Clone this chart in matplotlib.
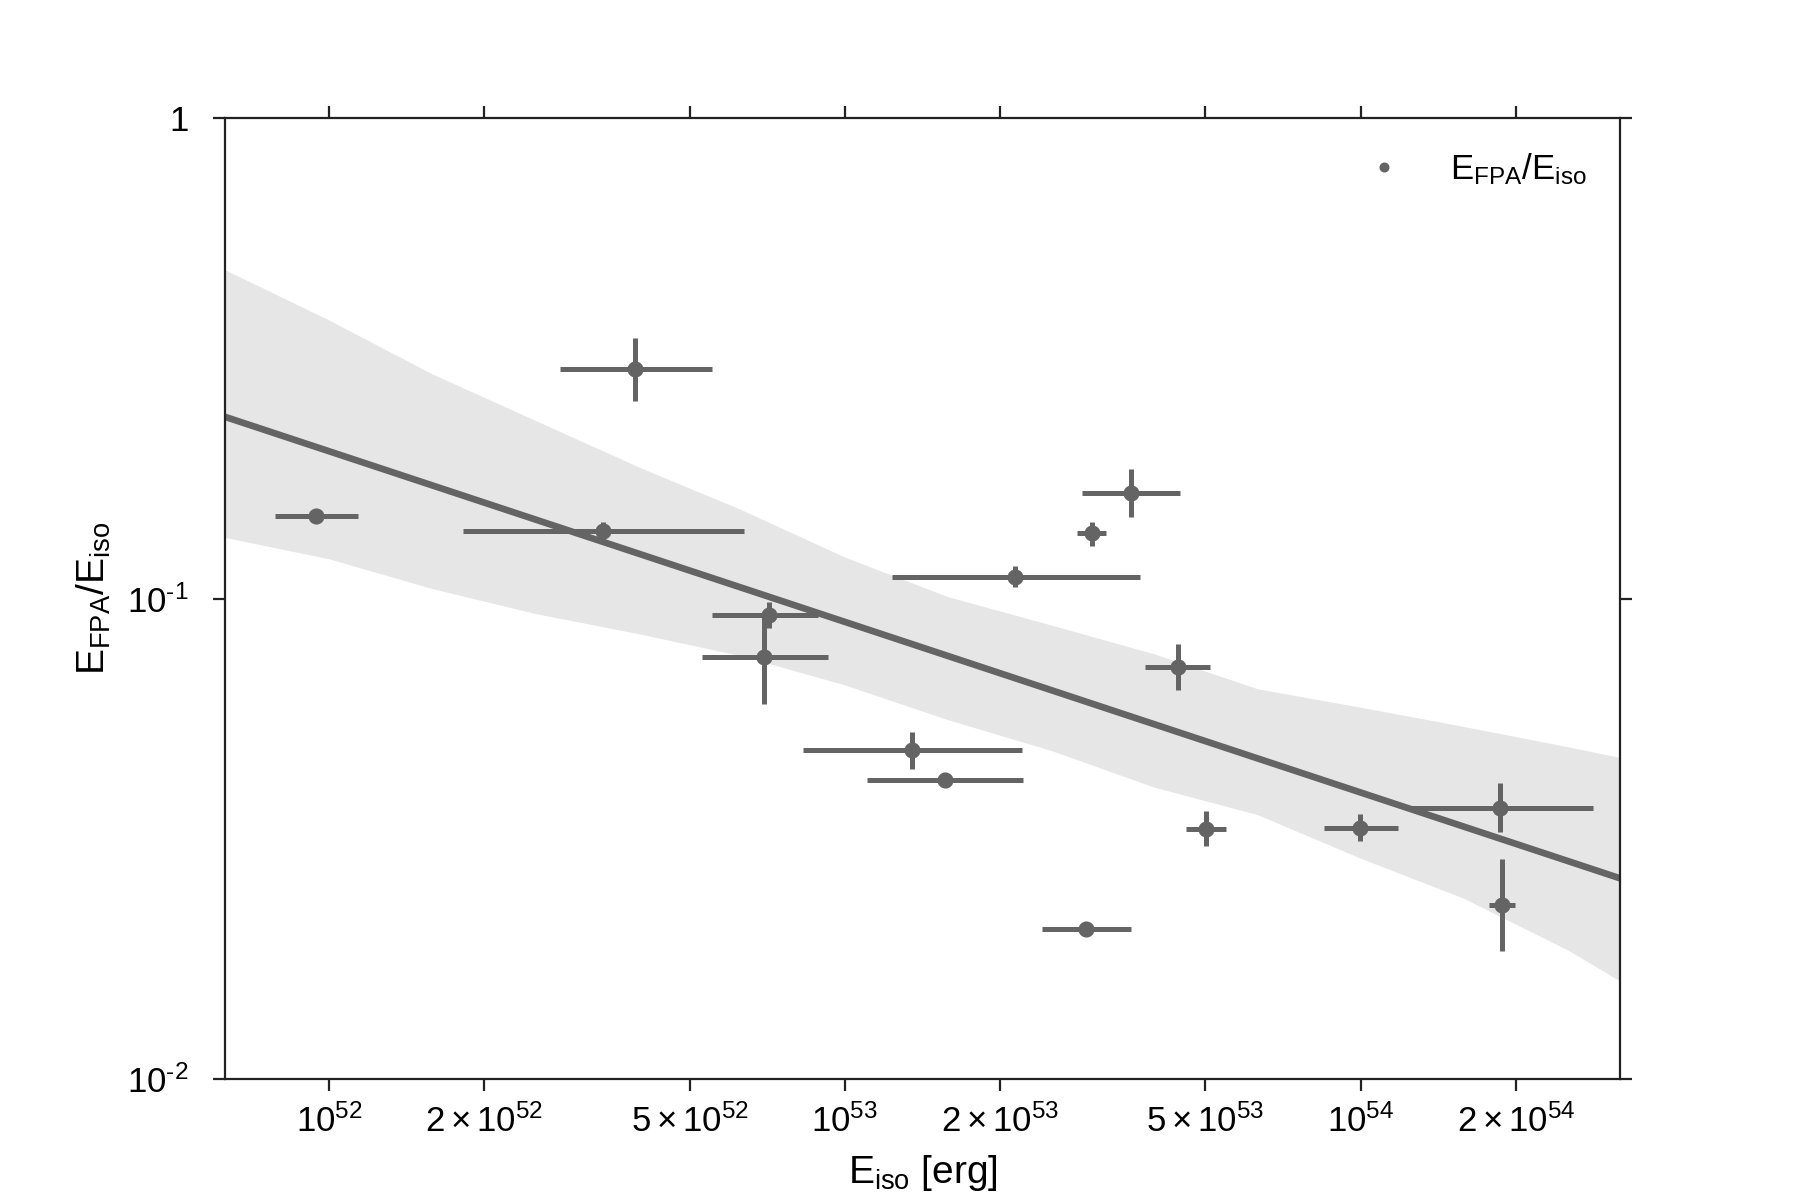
import matplotlib
matplotlib.use('Agg')
import matplotlib.pyplot as plt
from matplotlib.ticker import FixedLocator, FixedFormatter, NullLocator
import numpy as np

plt.rcParams['font.family'] = ['Liberation Sans', 'DejaVu Sans']
plt.rcParams['mathtext.fontset'] = 'custom'
plt.rcParams['mathtext.rm'] = 'Liberation Sans'
plt.rcParams['mathtext.it'] = 'Liberation Sans:italic'
plt.rcParams['mathtext.default'] = 'regular'

# data points: E_iso with lower/upper bounds, ratio with lower/upper bounds
e_iso    = [9.46e51, 3.92e52, 3.40e52, 7.14e52, 6.98e52, 2.14e53, 3.01e53, 3.59e53,
            4.42e53, 1.349e53, 1.563e53, 5.02e53, 9.97e53, 1.858e54, 1.877e54, 2.93e53]
e_iso_lo = [7.88e51, 2.81e52, 1.822e52, 5.52e52, 5.28e52, 1.233e53, 2.816e53, 2.878e53,
            3.81e53, 8.31e52, 1.103e53, 4.59e53, 8.47e53, 1.237e54, 1.774e54, 2.415e53]
e_iso_hi = [1.137e52, 5.52e52, 6.38e52, 8.88e52, 9.27e52, 3.74e53, 3.21e53, 4.47e53,
            5.11e53, 2.203e53, 2.213e53, 5.48e53, 1.183e54, 2.82e54, 1.992e54, 3.585e53]
ratio    = [0.1485, 0.300, 0.1384, 0.0924, 0.0754, 0.111, 0.1367, 0.166,
            0.0721, 0.0484, 0.042, 0.0332, 0.0333, 0.0367, 0.0230, 0.0205]
ratio_lo = [0.1485, 0.2576, 0.1324, 0.0867, 0.0603, 0.1055, 0.1288, 0.148,
            0.0645, 0.0442, 0.042, 0.0305, 0.0313, 0.0326, 0.01847, 0.0205]
ratio_hi = [0.1485, 0.3478, 0.1445, 0.0985, 0.093, 0.1169, 0.144, 0.186,
            0.0806, 0.0528, 0.042, 0.0361, 0.0356, 0.0414, 0.0287, 0.0205]

# best-fit power law (end points) and its confidence band
fit_e = [6.29e51, 3.18e54]
fit_ratio = [0.2389, 0.02617]
band_e = [6.3e51, 1e52, 1.58e52, 2.51e52, 3.98e52, 6.31e52, 1e53, 1.58e53,
          2.51e53, 3.98e53, 6.31e53, 1e54, 1.58e54, 2.51e54, 3.18e54]
band_hi = [0.483, 0.380, 0.294, 0.235, 0.188, 0.153, 0.122, 0.101,
           0.0881, 0.0767, 0.0649, 0.0594, 0.0542, 0.0492, 0.0467]
band_lo = [0.134, 0.121, 0.105, 0.0931, 0.0845, 0.0760, 0.0661, 0.0560,
           0.0483, 0.0405, 0.0355, 0.0288, 0.0238, 0.0186, 0.0160]

xtick_vals = [1e52, 2e52, 5e52, 1e53, 2e53, 5e53, 1e54, 2e54]
xtick_labels = [r'$10^{52}$', r'$2\times10^{52}$', r'$5\times10^{52}$', r'$10^{53}$',
                r'$2\times10^{53}$', r'$5\times10^{53}$', r'$10^{54}$', r'$2\times10^{54}$']
ytick_vals = [1e-2, 1e-1, 1]
ytick_labels = ['$10^{\u2010' + '2}$', '$10^{\u2010' + '1}$', '1']

gray = '#646464'

fig = plt.figure(figsize=(9, 6), dpi=200)
ax = fig.add_axes([0.125, 0.1008, 0.775, 0.8008])
ax.set_xscale('log')
ax.set_yscale('log')

ax.fill_between(band_e, band_lo, band_hi, color='#e6e6e6', lw=0, zorder=1)
ax.plot(fit_e, fit_ratio, color=gray, lw=2.4, zorder=2)

x = np.array(e_iso)
y = np.array(ratio)
xerr = [x - np.array(e_iso_lo), np.array(e_iso_hi) - x]
yerr = [y - np.array(ratio_lo), np.array(ratio_hi) - y]
ax.errorbar(x, y, xerr=xerr, yerr=yerr, fmt='o', ms=4.8, color=gray,
            ecolor=gray, elinewidth=1.8, capsize=0, zorder=3)

h, = ax.plot([], [], 'o', ms=2.6, color=gray, label=r'$E_{FPA}/E_{iso}$')
ax.legend(handles=[h], loc='upper right', bbox_to_anchor=(0.9763, 0.9657),
          frameon=False, borderpad=0, borderaxespad=0, handlelength=1.0,
          handletextpad=1.4, fontsize=12.5)

ax.set_xlim(6.29e51, 3.18e54)
ax.set_ylim(1e-2, 1)

ax.xaxis.set_major_locator(FixedLocator(xtick_vals))
ax.xaxis.set_major_formatter(FixedFormatter(xtick_labels))
ax.xaxis.set_minor_locator(NullLocator())
ax.yaxis.set_major_locator(FixedLocator(ytick_vals))
ax.yaxis.set_major_formatter(FixedFormatter(ytick_labels))
ax.yaxis.set_minor_locator(NullLocator())

ax.tick_params(which='major', direction='out', length=4.2, width=0.8,
               color='#222222', labelsize=12.5, top=True, right=True)
ax.tick_params(axis='x', pad=5)
ax.tick_params(axis='y', pad=9)
for s in ax.spines.values():
    s.set_linewidth(0.8)
    s.set_color('#222222')

ax.set_xlabel(r'$E_{iso}$ [erg]', fontsize=14)
ax.set_ylabel(r'$E_{FPA}/E_{iso}$', fontsize=14)
ax.xaxis.set_label_coords(0.5, -0.077)
ax.yaxis.set_label_coords(-0.080, 0.5)

plt.savefig('out.png', dpi=200)
